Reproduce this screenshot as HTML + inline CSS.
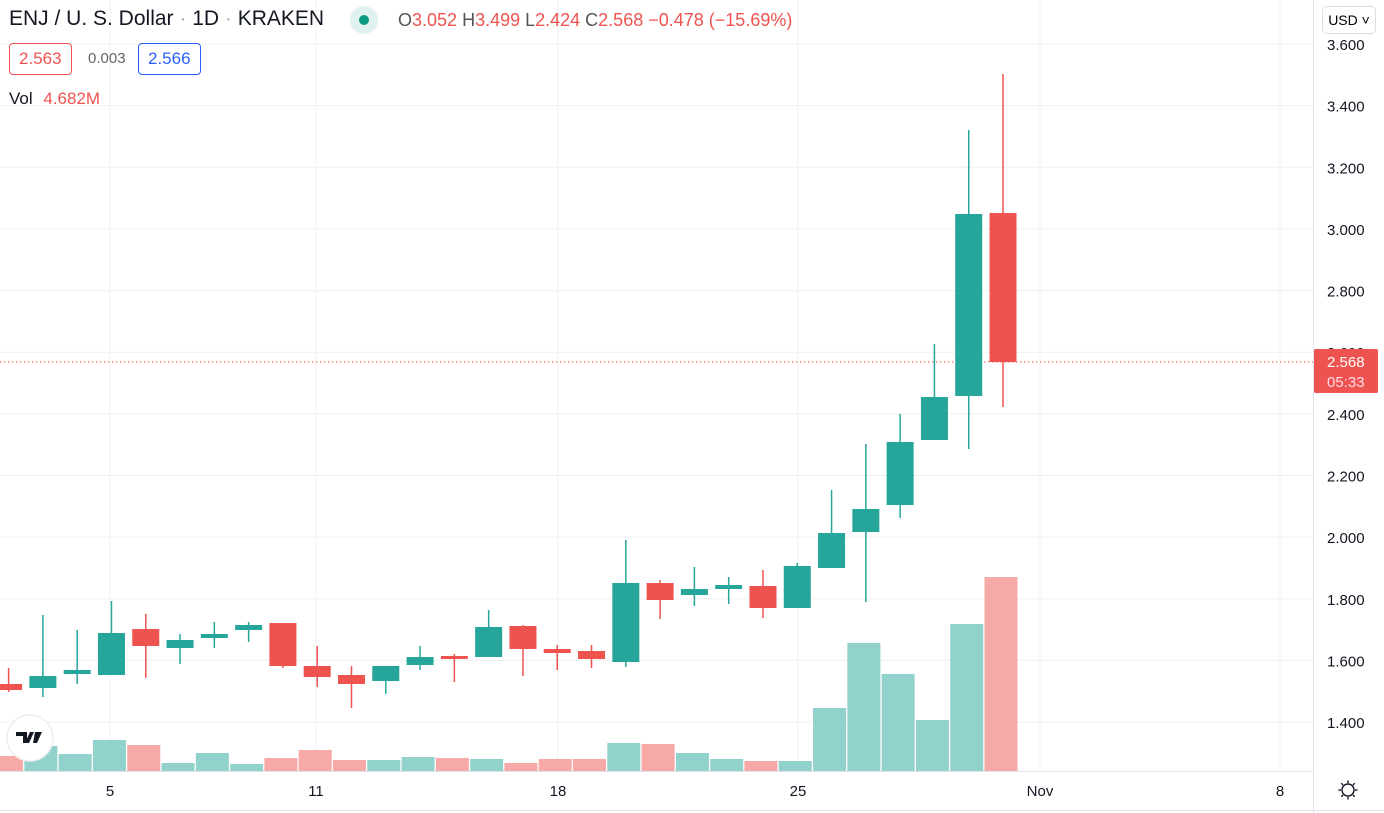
<!DOCTYPE html>
<html><head><meta charset="utf-8"><style>
body{margin:0;background:#fff;width:1384px;height:813px;overflow:hidden;font-family:"Liberation Sans",sans-serif}
svg{position:absolute;left:0;top:0}
.hdr{position:absolute;left:9px;top:7px;font-size:21px;color:#131722;white-space:nowrap}
.o{font-size:18px;color:#555}
.r{color:#ef5350}
.box{position:absolute;top:43px;height:30px;line-height:30px;border-radius:4px;font-size:17px;padding:0 9px}
</style></head><body>
<svg id="s" width="1384" height="813" xmlns="http://www.w3.org/2000/svg"></svg>
<div class="hdr">ENJ / U. S. Dollar <span style="color:#aaa">·</span> 1D <span style="color:#aaa">·</span> KRAKEN</div>
<div style="position:absolute;left:350px;top:6px;width:28px;height:28px;border-radius:14px;background:#e0f2ef"><div style="position:absolute;left:9px;top:9px;width:10px;height:10px;border-radius:5px;background:#089981"></div></div>
<div class="o" style="position:absolute;left:398px;top:10px;white-space:nowrap">O<span class="r">3.052</span> H<span class="r">3.499</span> L<span class="r">2.424</span> C<span class="r">2.568</span> <span class="r">−0.478 (−15.69%)</span></div>
<div class="box" style="left:9px;border:1px solid #ef5350;color:#ef5350">2.563</div>
<div style="position:absolute;left:88px;top:50px;font-size:15px;color:#666">0.003</div>
<div class="box" style="left:138px;border:1px solid #2962ff;color:#2962ff">2.566</div>
<div style="position:absolute;left:9px;top:89px;font-size:17px;color:#131722">Vol <span class="r" style="margin-left:6px">4.682M</span></div>
<div style="position:absolute;left:1322px;top:6px;width:52px;height:26px;border:1px solid #ddd;border-radius:5px;font-size:14px;line-height:26px;text-align:center;background:#fff">USD ˅</div>
<script>
var s=document.getElementById('s'),h='';
function y(p){return 44+(3.6-p)*308.2}
for(var p=1.4;p<=3.61;p+=0.2){var yy=y(p).toFixed(1);h+='<line x1="0" x2="1313" y1="'+yy+'" y2="'+yy+'" stroke="#f0f0f3"/>';}
[110,316,558,798,1040,1280].forEach(function(x){h+='<line x1="'+x+'" x2="'+x+'" y1="0" y2="771" stroke="#f0f0f3"/>';});
var G='#26a69a',R='#ef5350',GV='#92d2cc',RV='#f7a9a7';
var c=[[684,690,668,692,0],[676,688,615,697,1],[670,674,630,684,1],[633,675,601,675,1],[629,646,614,678,0],[640,648,634,664,1],[634,638,622,648,1],[625,630,622,642,1],[623,666,623,668,0],[666,677,646,687,0],[675,684,666,708,0],[666,681,666,694,1],[657,665,646,670,1],[656,659,654,682,0],[627,657,610,657,1],[626,649,625,676,0],[649,653,645,670,0],[651,659,645,668,0],[583,662,540,667,1],[583,600,580,619,0],[589,595,567,606,1],[585,589,577,604,1],[586,608,570,618,0],[566,608,563,608,1],[533,568,490,568,1],[509,532,444,602,1],[442,505,414,518,1],[397,440,344,440,1],[214,396,130,449,1],[213,362,74,407,0]];
var v=[756,746,754,740,745,763,753,764,758,750,760,760,757,758,759,763,759,759,743,744,753,759,761,761,708,643,674,720,624,577];
for(var i=0;i<c.length;i++){var x=8.6+i*34.29,k=c[i],vc=k[4]?GV:RV;
h+='<rect x="'+(x-18.5)+'" y="'+v[i]+'" width="33" height="'+(771-v[i])+'" fill="'+vc+'"/>';}
h+='<line x1="0" x2="1313" y1="362" y2="362" stroke="#ef5350" stroke-dasharray="1.5,2.5"/>';
for(var i=0;i<c.length;i++){var x=8.6+i*34.29,k=c[i],col=k[4]?G:R;
h+='<line x1="'+x+'" x2="'+x+'" y1="'+k[2]+'" y2="'+k[3]+'" stroke="'+col+'" stroke-width="1.5"/>';
h+='<rect x="'+(x-13.5)+'" y="'+k[0]+'" width="27" height="'+Math.max(2,k[1]-k[0])+'" fill="'+col+'"/>';}
h+='<line x1="1313.5" x2="1313.5" y1="0" y2="813" stroke="#e0e3eb"/>';
h+='<line x1="0" x2="1384" y1="810.5" y2="810.5" stroke="#e0e3eb"/>';
h+='<line x1="0" x2="1313" y1="771.5" y2="771.5" stroke="#e0e3eb"/>';
for(var p=1.4;p<=3.61;p+=0.2){h+='<text x="1327" y="'+(y(p)+6)+'" font-size="15" fill="#131722" font-family="Liberation Sans">'+p.toFixed(3)+'</text>';}
h+='<rect x="1314" y="349" width="64" height="44" rx="2" fill="#ef5350"/><text x="1327" y="367" font-size="15" fill="#fff" font-family="Liberation Sans">2.568</text><text x="1327" y="387" font-size="15" fill="#fde" font-family="Liberation Sans">05:33</text>';
[[110,'5'],[316,'11'],[558,'18'],[798,'25'],[1040,'Nov'],[1280,'8']].forEach(function(a){h+='<text x="'+a[0]+'" y="796" text-anchor="middle" font-size="15" fill="#131722" font-family="Liberation Sans">'+a[1]+'</text>';});
h+='<circle cx="1348" cy="790" r="6" fill="none" stroke="#131722" stroke-width="1.4"/>';
for(var a=0;a<8;a++){var an=a*Math.PI/4;h+='<line x1="'+(1348+7*Math.cos(an))+'" y1="'+(790+7*Math.sin(an))+'" x2="'+(1348+9.5*Math.cos(an))+'" y2="'+(790+9.5*Math.sin(an))+'" stroke="#131722" stroke-width="1.4"/>';}
h+='<circle cx="30" cy="738" r="23" fill="#fff" stroke="#eee" stroke-width="1.5"/><path d="M16 732h11v11h-4v-7h-7z M30 732h4l-5 11h-4z M35 732h7l-5 11h-4z" fill="#131722"/>';
s.innerHTML=h;
</script>
</body></html>
